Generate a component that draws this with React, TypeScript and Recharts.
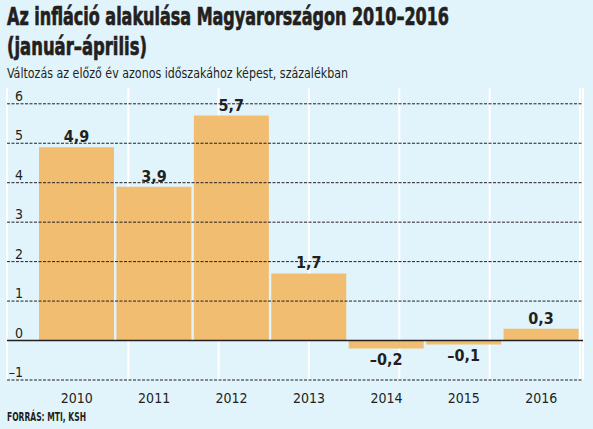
import React from 'react';
import { BarChart, Bar, XAxis, YAxis, CartesianGrid, ReferenceLine, LabelList } from 'recharts';

const years = ['2010', '2011', '2012', '2013', '2014', '2015', '2016'];
const inflation = [4.9, 3.9, 5.7, 1.7, -0.2, -0.1, 0.3];
const yTicks = [-1, 0, 1, 2, 3, 4, 5, 6];
const boundaries = [1, 2, 3, 4, 5, 6];

const data = years.map((y, i) => ({ year: y, value: inflation[i] }));

const BG = '#e2f4fb';
const BAR = '#f0bd71';
const INK = '#231f20';
const NARROW = "'DejaVu Sans Condensed', 'Liberation Sans Narrow', sans-serif";
const Y_LABEL_RIGHT = 23;

const fmt = (v: number) => v.toFixed(1).replace('.', ',').replace('-', '\u2013');
const fmtInt = (v: number) => String(v).replace('-', '\u2013');

function YTick(props: any) {
  const { y, payload } = props;
  return (
    <text x={Y_LABEL_RIGHT} y={y - 3} textAnchor="end" fontFamily={NARROW} fontSize={14} fill={INK}>
      {fmtInt(payload.value)}
    </text>
  );
}

function XTick(props: any) {
  const { x, y, payload } = props;
  return (
    <text x={x} y={y - 15} textAnchor="middle" fontFamily={NARROW} fontSize={14} fill={INK}>
      {payload.value}
    </text>
  );
}

export default function App() {
  return (
    <div style={{ position: 'absolute', left: 0, top: 0, width: 593, height: 429, background: BG, overflow: 'hidden' }}>
      <div style={{ position: 'absolute', left: 0, top: 0 }}>
        <BarChart width={593} height={429} data={data} margin={{ top: 88, right: 10, bottom: 19, left: 7 }} barCategoryGap={1}>
          <XAxis xAxisId="cat" dataKey="year" height={30} padding={{ left: 31, right: 3 }} axisLine={false} tickLine={false} tick={<XTick />} interval={0} />
          <XAxis xAxisId="b" type="number" domain={[0, 7]} ticks={boundaries} padding={{ left: 31, right: 3 }} hide />
          <YAxis yAxisId={0} mirror width={30} domain={[-1, 6.4]} ticks={yTicks} axisLine={false} tickLine={false} tick={<YTick />} interval={0} />
          <CartesianGrid xAxisId="b" yAxisId={0} horizontal={false} vertical stroke="#ffffff" strokeWidth={2} />
          <Bar xAxisId="cat" yAxisId={0} dataKey="value" fill={BAR} isAnimationActive={false}>
            <LabelList dataKey="value" position="top" offset={5} formatter={(v: any) => fmt(Number(v))} fill={INK} fontFamily={NARROW} fontWeight={700} fontSize={16} />
          </Bar>
          {yTicks.filter((t) => t !== 0).map((t) => (
            <ReferenceLine key={t} xAxisId="cat" yAxisId={0} y={t} stroke={INK} strokeWidth={1} strokeDasharray="3 1.5" />
          ))}
          <ReferenceLine xAxisId="cat" yAxisId={0} y={0} stroke={INK} strokeWidth={1.5} />
        </BarChart>
      </div>
      <svg width={593} height={429} style={{ position: 'absolute', left: 0, top: 0, pointerEvents: 'none' }}>
        <text x={7} y={25} fontFamily={NARROW} fontWeight={700} fontSize={25} fill={INK} stroke={INK} strokeWidth={0.7} textLength={442} lengthAdjust="spacingAndGlyphs">
          Az infláció alakulása Magyarországon 2010–2016
        </text>
        <text x={7} y={55} fontFamily={NARROW} fontWeight={700} fontSize={25} fill={INK} stroke={INK} strokeWidth={0.7} textLength={140} lengthAdjust="spacingAndGlyphs">
          (január–április)
        </text>
        <text x={7} y={78} fontFamily={NARROW} fontSize={14} fill={INK} textLength={341} lengthAdjust="spacingAndGlyphs">
          Változás az előző év azonos időszakához képest, százalékban
        </text>
        <text x={7} y={421} fontFamily={NARROW} fontWeight={700} fontSize={13} fill={INK} textLength={79} lengthAdjust="spacingAndGlyphs">
          FORRÁS: MTI, KSH
        </text>
      </svg>
    </div>
  );
}
